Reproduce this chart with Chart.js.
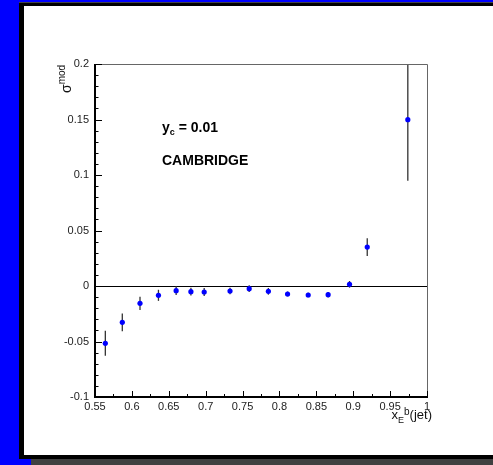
<!DOCTYPE html>
<html>
<head>
<meta charset="utf-8">
<script src="https://cdn.jsdelivr.net/npm/chart.js@4/dist/chart.umd.min.js"></script>
<style>
  html, body { margin: 0; padding: 0; background: #0000ff; width: 493px; height: 465px; overflow: hidden; }
  #frame { position: absolute; left: 19px; top: 2px; width: 474px; height: 457px; background: #000; border-top: 1px solid #444; box-sizing: border-box; }
  #pad { position: absolute; left: 24px; top: 6px; width: 469px; height: 449px; background: #fff; }
  #shade { position: absolute; left: 31px; top: 459px; width: 462px; height: 6px; background: #404040; }
  #c { position: absolute; left: 24px; top: 6px; }
</style>
</head>
<body>
<div id="frame"></div>
<div id="pad"></div>
<div id="shade"></div>
<canvas id="c" width="469" height="449"></canvas>
<script>
// x_E^b(jet) bin centres and sigma^mod values with errors
var xVals = [0.564, 0.587, 0.611, 0.636, 0.660, 0.680, 0.698, 0.733, 0.759, 0.785, 0.811, 0.839, 0.866, 0.895, 0.919, 0.974];
var yVals = [-0.0516, -0.0327, -0.0156, -0.0084, -0.0042, -0.0051, -0.0054, -0.0045, -0.0024, -0.0048, -0.0072, -0.0081, -0.0078, 0.0015, 0.0351, 0.1498];
var yErr  = [0.0113, 0.008, 0.006, 0.005, 0.004, 0.0035, 0.0035, 0.003, 0.003, 0.003, 0.0022, 0.002, 0.0025, 0.003, 0.008, 0.055];

var xTicks = [0.55, 0.6, 0.65, 0.7, 0.75, 0.8, 0.85, 0.9, 0.95, 1];
var yTicks = [-0.1, -0.05, 0, 0.05, 0.1, 0.15, 0.2];

var FONT = '"Liberation Sans", Arial, sans-serif';

function fmt(v) {
    return String(parseFloat(v.toFixed(3)));
}

var rootStyle = {
    id: 'rootStyle',
    beforeDatasetsDraw: function (chart) {
        var ctx = chart.ctx, xs = chart.scales.x, ys = chart.scales.y, a = chart.chartArea;
        ctx.save();
        // zero line
        ctx.strokeStyle = '#000';
        ctx.lineWidth = 1;
        var y0 = Math.round(ys.getPixelForValue(0)) + 0.5;
        ctx.beginPath();
        ctx.moveTo(a.left, y0);
        ctx.lineTo(a.right, y0);
        ctx.stroke();
        // error bars
        ctx.beginPath();
        ctx.rect(a.left, a.top, a.right - a.left, a.bottom - a.top);
        ctx.clip();
        ctx.strokeStyle = '#333';
        ctx.lineWidth = 1.3;
        for (var i = 0; i < xVals.length; i++) {
            var px = xs.getPixelForValue(xVals[i]);
            ctx.beginPath();
            ctx.moveTo(px, ys.getPixelForValue(yVals[i] - yErr[i]));
            ctx.lineTo(px, ys.getPixelForValue(yVals[i] + yErr[i]));
            ctx.stroke();
        }
        ctx.restore();
    },
    afterDraw: function (chart) {
        var ctx = chart.ctx, xs = chart.scales.x, ys = chart.scales.y, a = chart.chartArea;
        ctx.save();
        // frame: grey top/right, black axes
        ctx.strokeStyle = '#666';
        ctx.lineWidth = 1;
        ctx.beginPath();
        ctx.moveTo(a.left, a.top + 0.5);
        ctx.lineTo(a.right + 0.5, a.top + 0.5);
        ctx.lineTo(a.right + 0.5, a.bottom);
        ctx.stroke();
        ctx.strokeStyle = '#000';
        ctx.lineWidth = 2;
        ctx.beginPath();
        ctx.moveTo(a.left, a.top);
        ctx.lineTo(a.left, a.bottom);
        ctx.lineTo(a.right + 1, a.bottom);
        ctx.stroke();
        // ticks pointing inward
        ctx.lineWidth = 1;
        ctx.beginPath();
        var v, p;
        for (v = 0.55; v <= 1.0001; v += 0.025) {
            p = Math.round(xs.getPixelForValue(v)) + 0.5;
            var major = Math.abs(v / 0.05 - Math.round(v / 0.05)) < 1e-6;
            ctx.moveTo(p, a.bottom);
            ctx.lineTo(p, a.bottom - (major ? 6 : 3));
        }
        for (v = -0.1; v <= 0.2001; v += 0.01) {
            p = Math.round(ys.getPixelForValue(v)) + 0.5;
            var majorY = Math.abs(v / 0.05 - Math.round(v / 0.05)) < 1e-6;
            ctx.moveTo(a.left, p);
            ctx.lineTo(a.left + (majorY ? 7 : 3.5), p);
        }
        ctx.stroke();

        // labels inside the pad
        ctx.fillStyle = '#000';
        ctx.textBaseline = 'alphabetic';
        ctx.textAlign = 'left';
        var x0 = 138, b0 = 126;
        ctx.font = 'bold 14px ' + FONT;
        ctx.fillText('y', x0, b0);
        x0 += ctx.measureText('y').width;
        ctx.font = 'bold 9px ' + FONT;
        ctx.fillText('c', x0, b0 + 3);
        x0 += ctx.measureText('c').width;
        ctx.font = 'bold 14px ' + FONT;
        ctx.fillText(' = 0.01', x0, b0);
        ctx.fillText('CAMBRIDGE', 138, 159);

        // x axis title x_E^b(jet)
        var parts = [['x', 13, 0], ['E', 9, 4], ['b', 10, -4], ['(jet)', 13, 0]];
        var total = 0;
        parts.forEach(function (q) { ctx.font = q[1] + 'px ' + FONT; total += ctx.measureText(q[0]).width; });
        var tx = 408 - total;
        parts.forEach(function (q) {
            ctx.font = q[1] + 'px ' + FONT;
            ctx.fillStyle = '#111';
            ctx.fillText(q[0], tx, 413 + q[2]);
            tx += ctx.measureText(q[0]).width;
        });

        // y axis title sigma^mod
        ctx.translate(47, 87);
        ctx.rotate(-Math.PI / 2);
        ctx.font = '14px ' + FONT;
        ctx.fillText('σ', 0, 0);
        var w = ctx.measureText('σ').width;
        ctx.font = '10px ' + FONT;
        ctx.fillText('mod', w, -6);
        ctx.restore();
    }
};

var ctx = document.getElementById('c').getContext('2d');
new Chart(ctx, {
    type: 'scatter',
    data: {
        datasets: [{
            data: xVals.map(function (x, i) { return { x: x, y: yVals[i] }; }),
            pointRadius: 2.6,
            pointHoverRadius: 2.6,
            backgroundColor: '#0000ff',
            borderWidth: 0
        }]
    },
    options: {
        responsive: false,
        animation: false,
        devicePixelRatio: 1,
        layout: { padding: { top: 58, right: 66, left: 0, bottom: 0 } },
        plugins: { legend: { display: false }, tooltip: { enabled: false } },
        scales: {
            x: {
                type: 'linear', min: 0.55, max: 1,
                grid: { display: false, drawTicks: false },
                border: { display: false },
                afterBuildTicks: function (s) { s.ticks = xTicks.map(function (v) { return { value: v }; }); },
                afterFit: function (s) { s.height = 58; },
                ticks: { padding: 3, color: '#222', font: { family: FONT, size: 11 }, maxRotation: 0, autoSkip: false,
                    callback: function (v) { return fmt(v); } }
            },
            y: {
                min: -0.1, max: 0.2,
                grid: { display: false, drawTicks: false },
                border: { display: false },
                afterBuildTicks: function (s) { s.ticks = yTicks.map(function (v) { return { value: v }; }); },
                afterFit: function (s) { s.width = 71; },
                ticks: { padding: 6, color: '#222', font: { family: FONT, size: 11 }, autoSkip: false,
                    callback: function (v) { return fmt(v); } }
            }
        }
    },
    plugins: [rootStyle]
});
</script>
</body>
</html>
